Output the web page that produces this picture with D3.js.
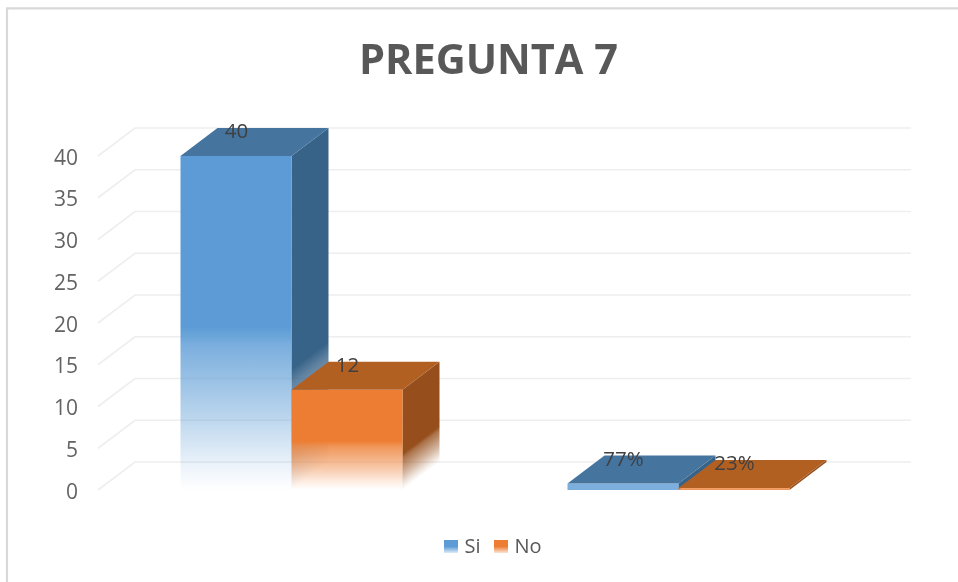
<!DOCTYPE html>
<html><head><meta charset="utf-8">
<script src="https://cdn.jsdelivr.net/npm/d3@7/dist/d3.min.js"></script>
<style>html,body{margin:0;padding:0;background:#fff}svg{display:block}text{font-family:"Open Sans",sans-serif}</style>
</head><body><svg id="c" width="958" height="582"></svg>
<script>
const categories = ["A", "B"];
const seriesNames = ["Si", "No"];
const siValues = [40, 0.77];
const noValues = [12, 0.23];
const siLabels = ["40", "77%"];
const noLabels = ["12", "23%"];
const tickValues = [0, 5, 10, 15, 20, 25, 30, 35, 40];
const titleText = "PREGUNTA 7";

const svgRoot = d3.select("#c");
const defs = svgRoot.append("defs");
defs.append("filter").attr("id", "soft")
  .attr("filterUnits", "userSpaceOnUse").attr("x", 0).attr("y", 0).attr("width", 958).attr("height", 582)
  .append("feGaussianBlur").attr("stdDeviation", 0.45);
const svg = svgRoot.append("g").attr("filter", "url(#soft)");
const depthX = 37, depthY = -28;
const y = d3.scaleLinear().domain([0, 40]).range([490, 156]);
const x0 = d3.scaleBand().domain(categories).range([98, 872]).paddingInner(0).paddingOuter(0);
const x1 = d3.scaleBand().domain(seriesNames).range([0, 222]);
const colors = d3.scaleOrdinal().domain(seriesNames).range(["#5b9bd5", "#ed7d31"]);
const topCol = d3.scaleOrdinal().domain(seriesNames).range(["#44749f", "#b25f24"]);
const sideCol = d3.scaleOrdinal().domain(seriesNames).range(["#396489", "#964f1c"]);

svg.append("rect").attr("width", 958).attr("height", 582).attr("fill", "#fff");
svg.append("path").attr("d", "M7,582V8.3H958").attr("fill", "none")
  .attr("stroke", "#d9d9d9").attr("stroke-width", 2.2);

svg.append("text").attr("x", 488.5).attr("y", 74).attr("text-anchor", "middle")
  .attr("font-size", 41.5).attr("font-weight", 700).attr("fill", "#595959").text(titleText);

const grid = svg.append("g").attr("fill", "none").attr("stroke", "#eeeeee").attr("stroke-width", 1.6);
grid.selectAll("path").data(tickValues).join("path")
  .attr("d", d => `M98,${y(d)}L${98 + depthX},${y(d) + depthY}H911`);

svg.append("g").selectAll("text").data(tickValues).join("text")
  .attr("x", 78).attr("y", d => y(d)).attr("dy", "0.41em").attr("text-anchor", "end")
  .attr("font-size", 21).attr("fill", "#636363").text(d => d);

function fadeGrad(id, color, xa, yTop, yBase, skew, frac) {
  const yf = yTop + (yBase - yTop) * frac, d = yBase - yf;
  let x2 = xa, y2 = yBase;
  if (skew) {
    const len = Math.hypot(depthX, depthY), nx = -depthY / len, ny = depthX / len, t = d * ny;
    x2 = xa + nx * t; y2 = yf + ny * t;
  }
  const g = defs.append("linearGradient").attr("id", id).attr("gradientUnits", "userSpaceOnUse")
    .attr("x1", xa).attr("y1", yf).attr("x2", x2).attr("y2", y2);
  [[0, 1], [0.12, 0.8], [0.55, 0.42], [0.85, 0.12], [1, 0]].forEach(s =>
    g.append("stop").attr("offset", s[0]).attr("stop-color", color).attr("stop-opacity", s[1]));
}

const rows = categories.flatMap((c, i) => [
  { c, i, s: seriesNames[0], v: siValues[i], label: siLabels[i] },
  { c, i, s: seriesNames[1], v: noValues[i], label: noLabels[i] }
]);
const bx = d => x0(d.c) + (x0.bandwidth() - 222) / 2 + x1(d.s);
const bw = x1.bandwidth();

rows.forEach((d, k) => {
  const l = bx(d), r = l + bw, t = y(d.v), b = y(0);
  const tall = d.v > 5;
  if (tall) {
    fadeGrad("f" + k, colors(d.s), l, t, b, false, 0.51);
    fadeGrad("s" + k, sideCol(d.s), r, t, b, true, 0.64);
  }
  const g = svg.append("g");
  g.append("path").attr("fill", tall ? `url(#s${k})` : sideCol(d.s))
    .attr("d", `M${r},${t}L${r + depthX},${t + depthY}V${b + depthY}L${r},${b}Z`);
  g.append("rect").attr("x", l).attr("y", t).attr("width", bw).attr("height", b - t)
    .attr("fill", tall ? `url(#f${k})` : colors(d.s)).attr("fill-opacity", tall ? 1 : 0.8);
  g.append("path").attr("fill", topCol(d.s))
    .attr("d", `M${l},${t}L${l + depthX},${t + depthY}H${r + depthX}L${r},${t}Z`);
});

svg.append("g").selectAll("text").data(rows).join("text")
  .attr("x", d => bx(d) + bw / 2 + 0.5)
  .attr("y", d => y(d.v) + depthY + 10)
  .attr("text-anchor", "middle").attr("font-size", 20.5).attr("fill", "#404040").text(d => d.label);

const swatch = defs.selectAll("linearGradient.sw").data(seriesNames).join("linearGradient")
  .attr("class", "sw").attr("id", (d, i) => "leg" + i).attr("x1", 0).attr("y1", 0).attr("x2", 0).attr("y2", 1);
swatch.append("stop").attr("offset", 0.5).attr("stop-color", d => colors(d));
swatch.append("stop").attr("offset", 1).attr("stop-color", d => colors(d)).attr("stop-opacity", 0.2);

const leg = svg.append("g").selectAll("g").data(seriesNames).join("g")
  .attr("transform", (d, i) => `translate(${[444, 494][i]},540)`);
leg.append("rect").attr("width", 14).attr("height", 13).attr("fill", (d, i) => `url(#leg${i})`);
leg.append("text").attr("x", 20.5).attr("y", 13).attr("font-size", 20).attr("fill", "#595959").text(d => d);
</script></body></html>
